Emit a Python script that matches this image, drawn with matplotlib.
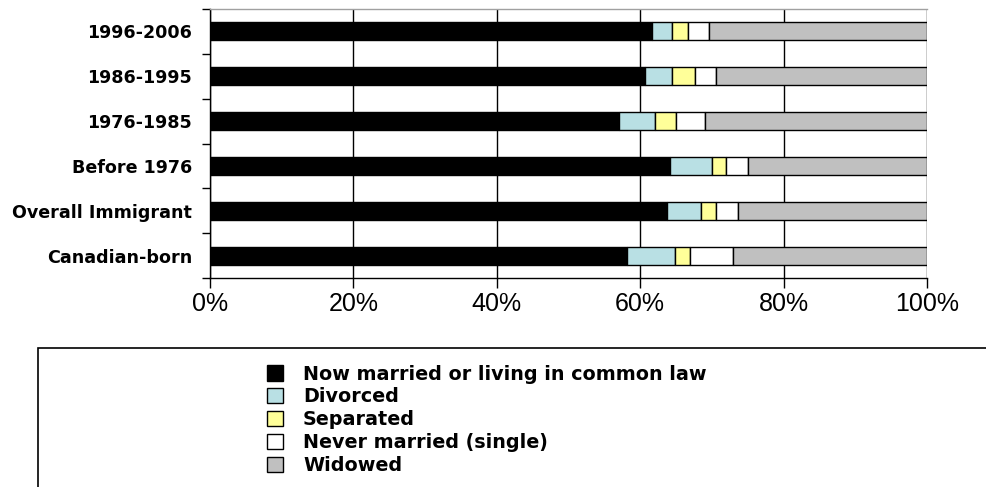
import matplotlib
matplotlib.use("Agg")
import matplotlib.pyplot as plt
from matplotlib.patches import Patch, Rectangle
import numpy as np

categories = ["1996-2006", "1986-1995", "1976-1985", "Before 1976",
              "Overall Immigrant", "Canadian-born"]
married = [61.7, 60.7, 57.1, 64.1, 63.7, 58.1]
divorced = [2.8, 3.8, 4.9, 5.9, 4.8, 6.8]
separated = [2.1, 3.1, 3.0, 2.0, 2.1, 2.1]
never_married = [3.0, 3.0, 4.0, 3.0, 3.0, 6.0]
widowed = [30.4, 29.4, 31.0, 25.0, 26.4, 27.0]

series_names = ["Now married or living in common law", "Divorced", "Separated",
                "Never married (single)", "Widowed"]
series_values = [married, divorced, separated, never_married, widowed]
colors = ["#000000", "#B9E0E4", "#FFFF99", "#FFFFFF", "#C0C0C0"]
xtick_labels = ["0%", "20%", "40%", "60%", "80%", "100%"]

W, H = 987, 487
fig = plt.figure(figsize=(W / 100, H / 100), dpi=100)
ax = fig.add_axes([210 / W, 1 - 278 / H, (927 - 210) / W, (278 - 9) / H])

n = len(categories)
y = np.arange(n)[::-1]
left = np.zeros(n)
for vals, col in zip(series_values, colors):
    ax.barh(y, vals, left=left, height=0.4, color=col, edgecolor="black",
            linewidth=1.0, zorder=3)
    left += np.array(vals)

ax.set_xlim(0, 100)
ax.set_ylim(-0.5, n - 0.5)
ax.set_xticks(np.arange(0, 101, 20))
ax.set_xticklabels(xtick_labels, fontsize=18, family="Liberation Sans")
ax.set_yticks(y)
ax.set_yticklabels(categories, fontsize=12.6, fontweight="bold", family="DejaVu Sans")
ax.set_yticks(np.arange(-0.5, n, 1.0), minor=True)
ax.tick_params(axis="y", which="major", length=0, pad=13)
ax.tick_params(axis="y", which="minor", length=6, width=1, direction="out")
ax.tick_params(axis="x", length=7, width=1, direction="out", pad=3)

ax.grid(axis="x", color="black", linewidth=1, zorder=0)
for side in ["left", "bottom"]:
    ax.spines[side].set_color("black")
    ax.spines[side].set_linewidth(1)
ax.spines["top"].set_color("#A0A0A0")
ax.spines["top"].set_linewidth(1)
ax.spines["right"].set_visible(False)

# Legend frame, running off the right and bottom edges of the figure
fig.patches.append(Rectangle((38 / W, -0.1), 1.0, 1 - 348 / H + 0.1,
                             transform=fig.transFigure, fill=False,
                             edgecolor="black", linewidth=1.2))

handles = [Patch(facecolor=c, edgecolor="black", linewidth=1) for c in colors]
fig.legend(handles, series_names, loc="upper left",
           bbox_to_anchor=(257 / W, 1 - 355 / H), frameon=False,
           prop={"family": "DejaVu Sans", "weight": "bold", "size": 13.8},
           handlelength=0.85, handleheight=0.85, handletextpad=1.05,
           labelspacing=0.2, borderpad=0)

fig.savefig("out.png", dpi=100)
